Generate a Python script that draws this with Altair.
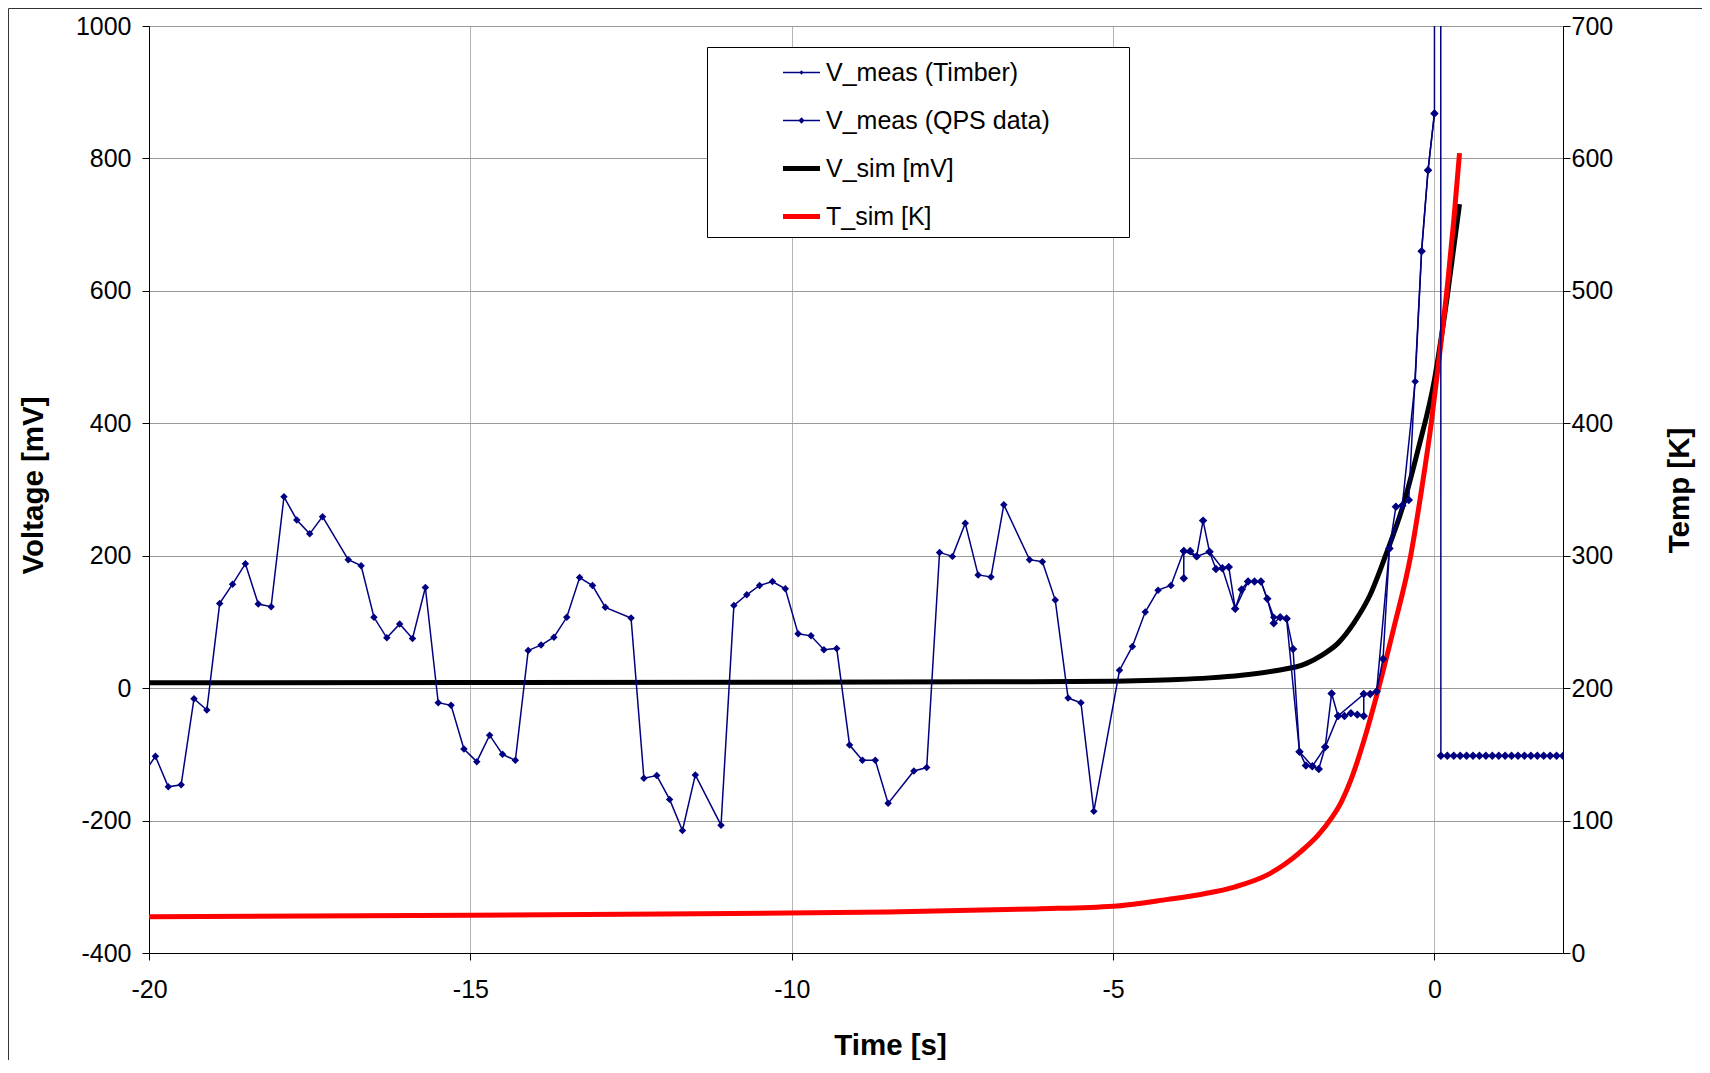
import altair as alt
import pandas as pd

NAVY = "#000080"
FONT = "Liberation Sans"

# ---- measured voltage, Timber (s, mV) ----
t_timber = [-20.1, -19.9, -19.7, -19.5, -19.3, -19.1, -18.9, -18.7, -18.5, -18.3, -18.1,
            -17.9, -17.7, -17.5, -17.3, -16.9, -16.7, -16.5, -16.3, -16.1, -15.9, -15.7,
            -15.5, -15.3, -15.1, -14.9, -14.7, -14.5, -14.3, -14.1, -13.9, -13.7, -13.5,
            -13.3, -13.1, -12.9, -12.5, -12.3, -12.1, -11.9, -11.7, -11.5, -11.1, -10.9,
            -10.7, -10.5, -10.3, -10.1, -9.9, -9.7, -9.5, -9.3, -9.1, -8.9, -8.7, -8.5,
            -8.1, -7.9, -7.7, -7.5, -7.3, -7.1, -6.9, -6.7, -6.3, -6.1, -5.9, -5.7, -5.5,
            -5.3, -4.9, -4.7, -4.5, -4.3, -4.1, -3.9, -3.7, -3.5, -3.3, -3.1, -2.9, -2.7,
            -2.5, -2.3, -2.1, -1.9, -1.7, -1.5, -1.1, -0.9, -0.7, -0.5, -0.3, -0.2, -0.1, 0.0]
v_timber = [-131, -103, -149, -146, -16, -33, 128, 157, 188, 127, 123,
            289, 254, 233, 259, 194, 185, 107, 76, 97, 75, 152,
            -22, -26, -92, -111, -71, -100, -109, 57, 65, 77, 107,
            167, 155, 122, 106, -136, -132, -168, -215, -131, -207, 125,
            141, 155, 161, 150, 82, 79, 58, 60, -86, -109, -109, -174,
            -125, -120, 205, 199, 249, 171, 168, 277, 194, 191, 133, -15, -22,
            -186, 27, 63, 115, 148, 155, 207, 199, 206, 181, 120, 161, 161,
            107, 104, -96, -118, -89, -42, -9, -5, 211, 276, 463, 660, 782, 868]

# ---- measured voltage, QPS data (s, mV) ----
t_qps = [-3.9, -3.9, -3.8, -3.7, -3.6, -3.5, -3.4, -3.3, -3.2, -3.1, -3.0, -2.9, -2.8,
         -2.7, -2.6, -2.5, -2.4, -2.3, -2.2, -2.1, -2.0, -1.9, -1.8, -1.7, -1.6, -1.5,
         -1.4, -1.3, -1.2, -1.1, -1.1, -1.0, -0.9, -0.8, -0.7, -0.6, -0.5, -0.4, -0.2,
         -0.1, 0.0, 0.05,
         0.1, 0.2, 0.3, 0.4, 0.5, 0.6, 0.7, 0.8, 0.9, 1.0,
         1.1, 1.2, 1.3, 1.4, 1.5, 1.6, 1.7, 1.8, 1.9, 2.0]
v_qps = [166, 207, 207, 199, 253, 206, 180, 181, 183, 120, 149, 161, 161,
         161, 135, 98, 107, 105, 59, -96, -117, -118, -122, -89, -8, -42,
         -42, -38, -40, -42, -9, -9, -5, 44, 211, 274, 276, 284, 660,
         782, 868, 30000,
         -102, -102, -102, -102, -102, -102, -102, -102, -102, -102,
         -102, -102, -102, -102, -102, -102, -102, -102, -102, -102]

# ---- simulated voltage (s, mV) ----
t_vsim = [-20, -15, -10, -7, -5, -4.5, -4, -3.5, -3, -2.5, -2, -1.75, -1.5, -1.25,
          -1.0, -0.75, -0.5, -0.25, 0.0, 0.2, 0.39]
v_vsim = [8, 8.5, 9, 9.5, 10.5, 11.5, 13, 15.5, 19.5, 26, 37, 50, 68, 99,
          141, 203, 272, 362, 466, 592, 731]

# ---- simulated temperature (s, K) ----
t_tsim = [-20, -15, -12, -8.5, -6.2, -5.0, -4.15, -3.6, -3.1, -2.6, -2.33, -2.07, -1.81,
          -1.6, -1.45, -1.29, -1.1, -0.88, -0.63, -0.37, -0.2, -0.05, 0.08, 0.21, 0.3, 0.39]
v_tsim = [27.3, 28.5, 29.5, 31, 33.3, 35.3, 40.5, 44.6, 50, 59, 67, 77, 89,
          102, 114, 132, 160, 198, 246, 300, 350, 400, 452, 508, 553, 604]

series_names = ["V_meas (Timber)", "V_meas (QPS data)", "V_sim [mV]", "T_sim [K]"]
series_colors = [NAVY, NAVY, "#000000", "#FF0000"]
legend_shapes = [
    "M-1,-0.04H1V0.04H-1Z M-0.12,0L0,-0.12L0.12,0L0,0.12Z",
    "M-1,-0.04H1V0.04H-1Z M-0.17,0L0,-0.17L0.17,0L0,0.17Z",
    "M-1,-0.14H1V0.14H-1Z",
    "M-1,-0.14H1V0.14H-1Z",
]

x_ticks = [-20, -15, -10, -5, 0]
mv_ticks = [-400, -200, 0, 200, 400, 600, 800, 1000]
k_ticks = [0, 100, 200, 300, 400, 500, 600, 700]


def frame(t, v):
    return pd.DataFrame({"t": t, "v": v, "i": list(range(len(t)))})


df_timber = frame(t_timber, v_timber)
df_qps = frame(t_qps, v_qps)
df_vsim = frame(t_vsim, v_vsim)
df_tsim = frame(t_tsim, v_tsim)

LABEL = "toString(datum.value)"

x_scale = alt.Scale(domain=[-20, 2], nice=False, zero=False)
x_axis = alt.Axis(values=x_ticks, title="Time [s]", grid=True, gridColor="#b4b4b4",
                  labelPadding=17, labelFlush=False, labelOverlap=False, labelExpr=LABEL,
                  titleX=741, titleY=101, titleBaseline="alphabetic", titleAlign="center")


def xenc():
    return alt.X("t:Q", scale=x_scale, axis=x_axis)


mv_scale = alt.Scale(domain=[-400, 1000], nice=False, zero=False)
k_scale = alt.Scale(domain=[0, 700], nice=False, zero=False)

left_axis = alt.Axis(orient="left", values=mv_ticks, title="Voltage [mV]", grid=True,
                     gridColor="#999999", labelPadding=11, labelOverlap=False,
                     labelFlush=False, labelExpr=LABEL, titleAngle=270, titleX=-107,
                     titleY=459, titleBaseline="alphabetic", titleAlign="center")
right_axis = alt.Axis(orient="right", values=k_ticks, title="Temp [K]", grid=False,
                      labelPadding=1, labelOverlap=False, labelFlush=False, labelExpr=LABEL,
                      titleAngle=270, titleX=125, titleY=464,
                      titleBaseline="alphabetic", titleAlign="center")

border = alt.Chart(pd.DataFrame({"a": [0]})).mark_rect(
    fillOpacity=0, stroke="#333333", strokeWidth=1
).encode(x=alt.value(-140.5), x2=alt.value(2000), y=alt.value(-17.5), y2=alt.value(2000))

vsim = alt.Chart(df_vsim).mark_line(
    color="#000000", strokeWidth=5, interpolate="monotone", clip=True
).encode(x=xenc(), y=alt.Y("v:Q", scale=mv_scale, axis=left_axis), order="i:Q")

tsim = alt.Chart(df_tsim).mark_line(
    color="#FF0000", strokeWidth=5, interpolate="monotone", clip=True
).encode(x=xenc(), y=alt.Y("v:Q", scale=k_scale, axis=right_axis), order="i:Q")

timber = alt.Chart(df_timber).mark_line(
    color=NAVY, strokeWidth=1.5, clip=True,
    point=alt.OverlayMarkDef(shape="diamond", size=56, filled=True, color=NAVY, clip=True)
).encode(x=xenc(), y=alt.Y("v:Q", scale=mv_scale, axis=None), order="i:Q")

qps = alt.Chart(df_qps).mark_line(
    color=NAVY, strokeWidth=1.5, clip=True,
    point=alt.OverlayMarkDef(shape="diamond", size=72, filled=True, color=NAVY, clip=True)
).encode(x=xenc(), y=alt.Y("v:Q", scale=mv_scale, axis=None), order="i:Q")

legend_def = dict(
    title=None, orient="none", legendX=558, legendY=21, padding=7,
    fillColor="white", strokeColor="black", symbolSize=1369, symbolOffset=69,
    labelOffset=6, labelFontSize=25, labelFont=FONT, labelColor="black",
    rowPadding=16, symbolStrokeWidth=0, symbolOpacity=1, labelLimit=800,
    labelExpr="datum.label + '\u2800\u2800\u2800\u2800'",
)

legend_layer = alt.Chart(pd.DataFrame({"series": series_names})).mark_point(
    filled=True, opacity=0
).encode(
    color=alt.Color("series:N", scale=alt.Scale(domain=series_names, range=series_colors),
                    legend=alt.Legend(**legend_def)),
    shape=alt.Shape("series:N", scale=alt.Scale(domain=series_names, range=legend_shapes),
                    legend=alt.Legend(**legend_def)),
)

chart = alt.layer(border, vsim, tsim, timber, qps, legend_layer).resolve_scale(
    y="independent"
).properties(
    width=1414, height=927,
    autosize=alt.AutoSizeParams(type="none"),
    padding={"left": 141, "top": 18, "right": 139, "bottom": 107},
    background="white",
).configure_view(
    fill="#FFFFCC", stroke="#808080", strokeWidth=1
).configure_axis(
    labelFont=FONT, labelFontSize=25, labelColor="black",
    titleFont=FONT, titleFontSize=29.5, titleFontWeight="bold", titleColor="black",
    tickColor="black", tickSize=7, tickWidth=1, domainColor="black", domainWidth=1,
    gridWidth=1,
)

chart.save("out.html", embed_options={"renderer": "svg", "actions": False})
